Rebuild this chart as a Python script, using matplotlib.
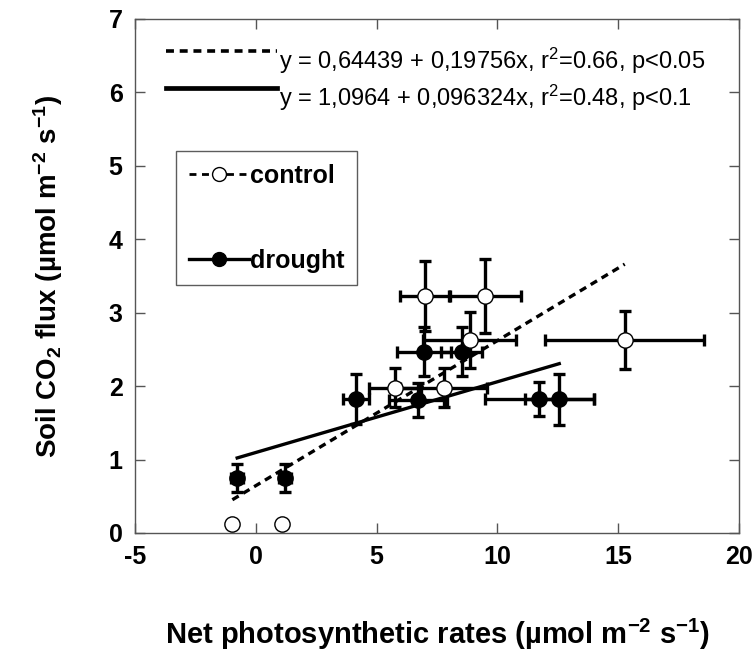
import matplotlib
matplotlib.use('Agg')
import matplotlib.pyplot as plt
from matplotlib.lines import Line2D
from matplotlib.legend_handler import HandlerLine2D
from matplotlib.font_manager import FontProperties
import numpy as np

plt.rcParams['font.family'] = ['Liberation Sans', 'DejaVu Sans']
plt.rcParams['mathtext.default'] = 'regular'
plt.rcParams['axes.unicode_minus'] = False

# ---- data ----
control_x = [-0.97, 1.09, 5.76, 7.78, 7.00, 9.49, 8.86, 15.27]
control_y = [0.12, 0.12, 1.98, 1.98, 3.23, 3.23, 2.63, 2.63]
control_xerr = [0, 0, 1.07, 1.80, 1.05, 1.50, 1.93, 3.28]
control_yerr = [0, 0, 0.27, 0.27, 0.48, 0.50, 0.38, 0.39]

drought_x = [-0.77, 1.21, 4.14, 6.72, 6.96, 8.52, 11.73, 12.56]
drought_y = [0.75, 0.75, 1.83, 1.81, 2.47, 2.47, 1.82, 1.82]
drought_xerr = [0.25, 0.25, 0.55, 1.20, 1.10, 0.85, 2.25, 1.42]
drought_yerr = [0.19, 0.19, 0.34, 0.23, 0.33, 0.33, 0.23, 0.35]

fit_control = (0.64439, 0.19756)
fit_drought = (1.0964, 0.096324)

eq_control = 'y = 0,64439 + 0,19756x, r$^2$=0.66, p<0.05'
eq_drought = 'y = 1,0964 + 0,096324x, r$^2$=0.48, p<0.1'

x_ticks = [-5, 0, 5, 10, 15, 20]
y_ticks = [0, 1, 2, 3, 4, 5, 6, 7]


class ShiftedLine(HandlerLine2D):
    """Legend line handler with the key drawn a bit higher than the text centre."""
    def __init__(self, dy=0.0, **kw):
        super().__init__(**kw)
        self.dy = dy

    def create_artists(self, legend, orig_handle, xdescent, ydescent,
                       width, height, fontsize, trans):
        arts = super().create_artists(legend, orig_handle, xdescent, ydescent,
                                      width, height, fontsize, trans)
        for a in arts:
            a.set_ydata(np.asarray(a.get_ydata(), dtype=float) + self.dy * fontsize)
        return arts


# ---- figure ----
W, H = 755, 657
fig = plt.figure(figsize=(W / 100, H / 100), dpi=100)
ax = fig.add_axes([135 / W, 1 - 533 / H, 604 / W, 514 / H])

ax.set_xlim(-5, 20)
ax.set_ylim(0, 7)
ax.set_xticks(x_ticks)
ax.set_yticks(y_ticks)

# regression lines
xc = np.array([min(control_x), max(control_x)])
xd = np.array([min(drought_x), max(drought_x)])
ax.plot(xc, fit_control[0] + fit_control[1] * xc, color='black', lw=2.4,
        linestyle=(0, (2.2, 1.6)), zorder=2)
ax.plot(xd, fit_drought[0] + fit_drought[1] * xd, color='black', lw=2.4,
        linestyle='-', zorder=2)

# error bars
eb_kw = dict(fmt='none', ecolor='black', elinewidth=2.4, capsize=4.5,
             capthick=2.4, zorder=3)
ax.errorbar(drought_x, drought_y, xerr=drought_xerr, yerr=drought_yerr, **eb_kw)
ax.errorbar(control_x, control_y, xerr=control_xerr, yerr=control_yerr, **eb_kw)

# markers
ax.plot(drought_x, drought_y, 'o', ms=11, mfc='black', mec='black', mew=1,
        linestyle='none', zorder=4)
ax.plot(control_x, control_y, 'o', ms=11, mfc='white', mec='black', mew=1,
        linestyle='none', zorder=4)

# axes styling
for s in ax.spines.values():
    s.set_linewidth(1.0)
    s.set_color('#555555')
ax.tick_params(direction='in', length=7, width=1, color='#555555',
               top=True, right=True, labelsize=18, pad=9)
for lab in ax.get_xticklabels() + ax.get_yticklabels():
    lab.set_fontweight('bold')

ax.set_xlabel('Net photosynthetic rates (µmol m$^{-2}$ s$^{-1}$)',
              fontsize=21, fontweight='bold', labelpad=34)
ax.set_ylabel('Soil CO$_2$ flux (µmol m$^{-2}$ s$^{-1}$)',
              fontsize=20, fontweight='bold', labelpad=31)

# equation legend
eq_handles = [Line2D([], [], color='black', lw=2.6, linestyle=(0, (2.2, 1.6))),
              Line2D([], [], color='black', lw=3.4, linestyle='-')]
eq_prop = FontProperties(family=['Liberation Sans', 'DejaVu Sans'], size=17)
leg1 = ax.legend(eq_handles, [eq_control, eq_drought], loc='upper left',
                 bbox_to_anchor=(0.035, 0.967), frameon=False, prop=eq_prop,
                 handlelength=4.7, handletextpad=0.1, labelspacing=0.3,
                 borderaxespad=0,
                 handler_map={Line2D: ShiftedLine(dy=0.4)})
ax.add_artist(leg1)

# group legend
grp_handles = [Line2D([], [], color='black', lw=2, linestyle=(0, (2.5, 2)),
                      marker='o', ms=10, mfc='white', mec='black', mew=1),
               Line2D([], [], color='black', lw=2.4, linestyle='-',
                      marker='o', ms=10, mfc='black', mec='black')]
grp_prop = FontProperties(family=['Liberation Sans', 'DejaVu Sans'], weight='bold', size=18)
leg2 = ax.legend(grp_handles, ['control', 'drought'], loc='upper left',
                 bbox_to_anchor=(0.068, 0.743), frameon=True, fancybox=False,
                 prop=grp_prop, handlelength=2.4, handletextpad=0.05,
                 labelspacing=2.45, borderpad=0.5, borderaxespad=0)
leg2.get_frame().set_edgecolor('#333333')
leg2.get_frame().set_linewidth(1.0)

fig.savefig('out.png', dpi=100)
